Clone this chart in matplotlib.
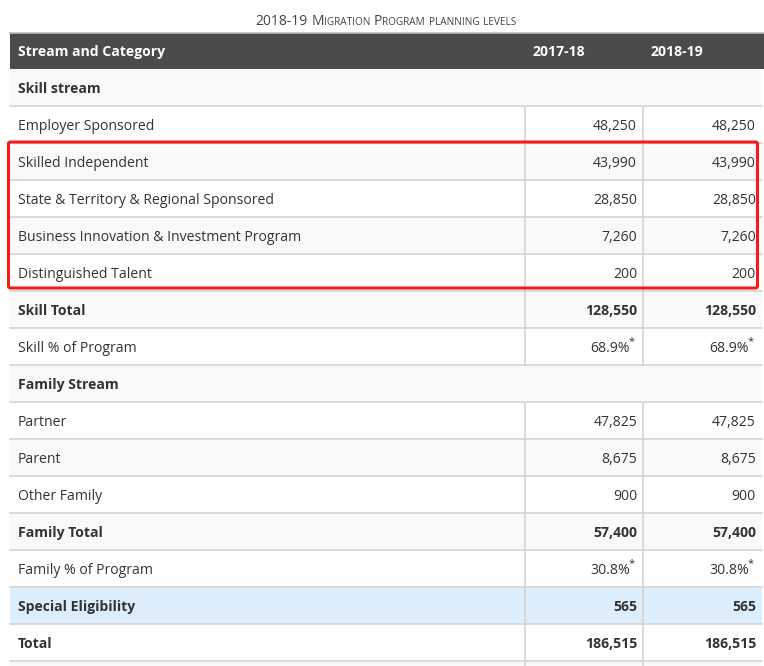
import matplotlib
matplotlib.use("Agg")
import matplotlib.pyplot as plt
from matplotlib.patches import Rectangle, FancyBboxPatch

plt.rcParams['font.family'] = ['Open Sans', 'DejaVu Sans']

title = "2018-19 Migration Program planning levels"
headers = ["Stream and Category", "2017-18", "2018-19"]
categories = [
    "Skill stream", "Employer Sponsored", "Skilled Independent",
    "State & Territory & Regional Sponsored",
    "Business Innovation & Investment Program", "Distinguished Talent",
    "Skill Total", "Skill % of Program", "Family Stream", "Partner", "Parent",
    "Other Family", "Family Total", "Family % of Program",
    "Special Eligibility", "Total",
]
row_kinds = ["section", "normal", "normal", "normal", "normal", "normal",
             "total", "pct", "section", "normal", "normal", "normal",
             "total", "pct", "special", "total"]
values_2017_18 = [None, 48250, 43990, 28850, 7260, 200, 128550, 68.9, None,
                  47825, 8675, 900, 57400, 30.8, 565, 186515]
values_2018_19 = [None, 48250, 43990, 28850, 7260, 200, 128550, 68.9, None,
                  47825, 8675, 900, 57400, 30.8, 565, 186515]
highlight_rows = ["Skilled Independent", "Distinguished Talent"]

W, H = 764, 666
fig = plt.figure(figsize=(W / 100, H / 100), dpi=100)
ax = fig.add_axes([0, 0, 1, 1])
ax.set_xlim(0, W)
ax.set_ylim(H, 0)
ax.axis('off')

left, right = 10, 762
col1, col2 = 525, 643
head_top, head_bot = 33, 69
row_h = 37
txt = '#333333'
line_c = '#d4d4d4'
fs = 10.1

# title in small caps
renderer = fig.canvas.get_renderer()
big, small = 10.0, 7.2
segs = []
for word_i, word in enumerate(title.split(" ")):
    if word_i > 0:
        segs.append((" ", big))
    if word[0].isupper():
        segs.append((word[0], big))
        if len(word) > 1:
            segs.append((word[1:].upper(), small))
    elif word[0].isalpha():
        segs.append((word.upper(), small))
    else:
        segs.append((word, big))
widths = []
objs = []
for s, size in segs:
    t = ax.text(0, 25, s, fontsize=size, color='#444444', va='baseline', ha='left')
    bb = t.get_window_extent(renderer=renderer)
    widths.append(bb.width)
    objs.append(t)
total_w = sum(widths)
x0 = (left + right) / 2 - total_w / 2
for t, w in zip(objs, widths):
    t.set_x(x0)
    x0 += w

# header
ax.add_patch(Rectangle((left, head_top), W - left, head_bot - head_top,
                       facecolor='#4b4b4b', edgecolor='none'))
ax.plot([left, W], [head_top - 0.5, head_top - 0.5], color='#bbbbbb', lw=1.2)
hy = (head_top + head_bot) / 2 + 1
ax.text(18, hy, headers[0], color='white', fontsize=fs, fontweight='bold', va='center')
ax.text(533, hy, headers[1], color='white', fontsize=fs, fontweight='bold', va='center')
ax.text(651, hy, headers[2], color='white', fontsize=fs, fontweight='bold', va='center')

def fmt(v, kind):
    if kind == 'pct':
        return f"{v:.1f}%"
    return f"{v:,}"

n = len(categories)
for i in range(n + 1):
    y0 = head_bot + i * row_h
    kind = row_kinds[i] if i < n else 'normal'
    if kind == 'special':
        bg = '#dcedfb'
    else:
        bg = '#f9f9f9' if i % 2 == 0 else '#ffffff'
    ax.add_patch(Rectangle((left, y0), right - left, row_h, facecolor=bg, edgecolor='none'))
    ax.plot([left, right], [y0 + row_h, y0 + row_h], color=line_c, lw=1.2)
    if kind != 'section':
        for cx in (col1, col2):
            ax.plot([cx, cx], [y0, min(y0 + row_h, H)], color=line_c, lw=1.2)
    if i >= n:
        continue
    yc = y0 + row_h / 2 + 1.8
    bold = kind in ('section', 'total', 'special')
    fw = 'bold' if bold else 'normal'
    ax.text(18, yc, categories[i], color=txt, fontsize=fs, fontweight=fw, va='center')
    for v, xr in ((values_2017_18[i], 637), (values_2018_19[i], 756)):
        if v is None:
            continue
        if kind == 'pct':
            ax.text(xr - 7, yc, fmt(v, kind), color=txt, fontsize=fs, va='center', ha='right')
            ax.text(xr - 8, yc - 7, "*", color=txt, fontsize=8, va='center', ha='left')
        else:
            ax.text(xr, yc, fmt(v, kind), color=txt, fontsize=fs, fontweight=fw,
                    va='center', ha='right')

# red highlight box
r0 = categories.index(highlight_rows[0])
r1 = categories.index(highlight_rows[1])
by0 = head_bot + r0 * row_h - 1
by1 = head_bot + (r1 + 1) * row_h - 3
ax.add_patch(FancyBboxPatch((8.5, by0), 749, by1 - by0,
                            boxstyle="round,pad=0,rounding_size=2",
                            facecolor='none', edgecolor='#f21c1c', lw=2.2, zorder=10))

fig.savefig("out.png", dpi=100)
